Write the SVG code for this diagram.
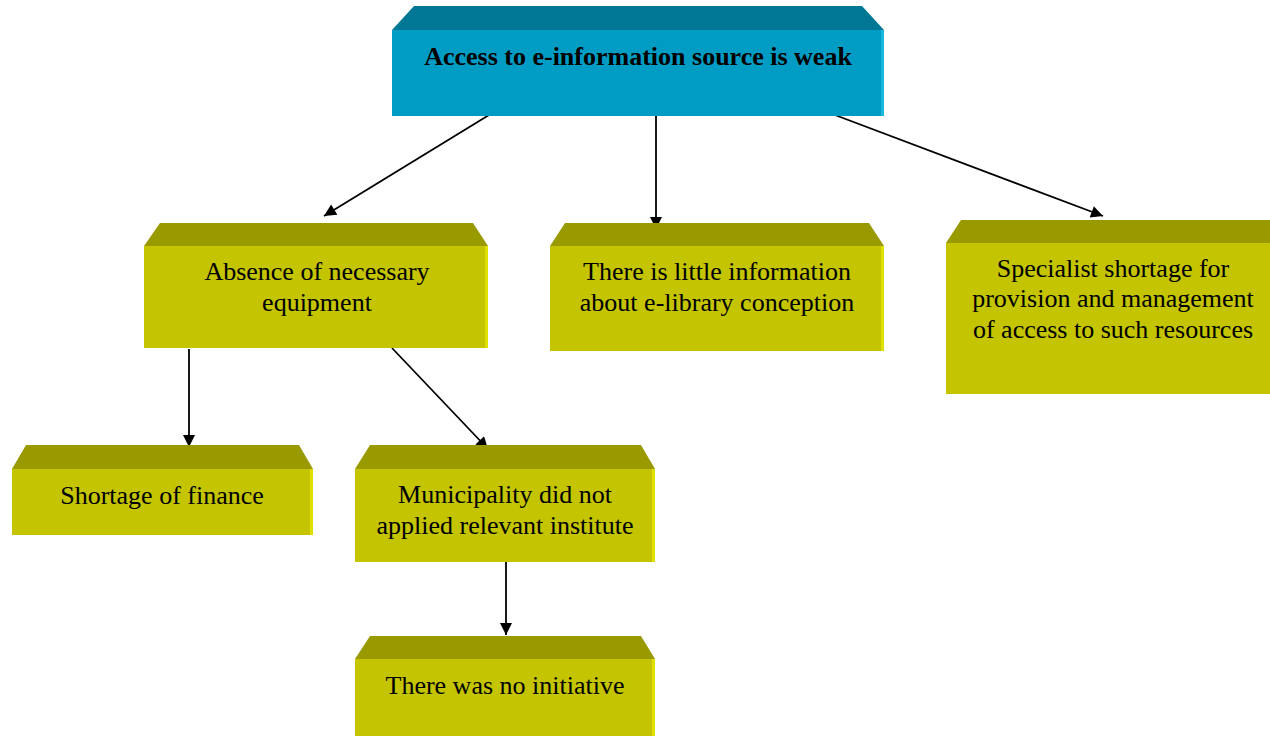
<svg xmlns="http://www.w3.org/2000/svg" width="1270" height="736" viewBox="0 0 1270 736">
<style>
.tb{fill:#007895}.fb{fill:#009CC4}.eb{fill:#1AB8DF}
.ty{fill:#999900}.fy{fill:#C4C400}.ey{fill:#E0E000}
text{font-family:"Liberation Serif","Times New Roman",serif;font-size:26px;fill:#000;text-anchor:middle}
.b{font-weight:bold}
.c{stroke:#000;stroke-width:1.8;fill:none;marker-end:url(#ah)}
</style>
<defs>
<marker id="ah" viewBox="0 0 10 10" refX="10" refY="5" markerWidth="14" markerHeight="12" markerUnits="userSpaceOnUse" orient="auto"><path d="M0,0L10,5L0,10z" fill="#000"/></marker>
</defs>
<rect width="1270" height="736" fill="#fff"/>
<g id="connectors">
<line class="c" x1="489" y1="115" x2="324" y2="216"/>
<line class="c" x1="656" y1="116" x2="656" y2="229"/>
<line class="c" x1="835" y1="115" x2="1103" y2="216"/>
<line class="c" x1="189" y1="349" x2="189" y2="447"/>
<line class="c" x1="392" y1="348" x2="488" y2="449"/>
<line class="c" x1="506" y1="562" x2="506" y2="635"/>
</g>
<g id="n-top">
<polygon class="tb" points="392,30 414,6 862,6 884,30"/>
<rect class="fb" x="392" y="30" width="492" height="86"/>
<rect class="eb" x="881" y="30" width="3" height="86"/>
<text class="b" x="638" y="65">Access to e-information source is weak</text>
</g>
<g id="n-absence">
<polygon class="ty" points="144,246 160,223 473,223 488,246"/>
<rect class="fy" x="144" y="246" width="344" height="102"/>
<rect class="ey" x="485" y="246" width="3" height="102"/>
<text x="317" y="280">Absence of necessary</text>
<text x="317" y="311">equipment</text>
</g>
<g id="n-little">
<polygon class="ty" points="550,246 565,223 869,223 884,246"/>
<rect class="fy" x="550" y="246" width="334" height="105"/>
<rect class="ey" x="881" y="246" width="3" height="105"/>
<text x="717" y="280">There is little information</text>
<text x="717" y="311">about e-library conception</text>
</g>
<g id="n-specialist">
<polygon class="ty" points="946,243 961,220 1270,220 1270,243"/>
<rect class="fy" x="946" y="243" width="324" height="151"/>
<text x="1113" y="277">Specialist shortage for</text>
<text x="1113" y="307">provision and management</text>
<text x="1113" y="338">of access to such resources</text>
</g>
<g id="n-finance">
<polygon class="ty" points="12,469 26,445 299,445 313,469"/>
<rect class="fy" x="12" y="469" width="301" height="66"/>
<rect class="ey" x="310" y="469" width="3" height="66"/>
<text x="162" y="504">Shortage of finance</text>
</g>
<g id="n-municipality">
<polygon class="ty" points="355,469 370,445 641,445 655,469"/>
<rect class="fy" x="355" y="469" width="300" height="93"/>
<rect class="ey" x="652" y="469" width="3" height="93"/>
<text x="505" y="503">Municipality did not</text>
<text x="505" y="534">applied relevant institute</text>
</g>
<g id="n-initiative">
<polygon class="ty" points="355,659 370,636 641,636 655,659"/>
<rect class="fy" x="355" y="659" width="300" height="80"/>
<rect class="ey" x="652" y="659" width="3" height="80"/>
<text x="505" y="694">There was no initiative</text>
</g>
</svg>
